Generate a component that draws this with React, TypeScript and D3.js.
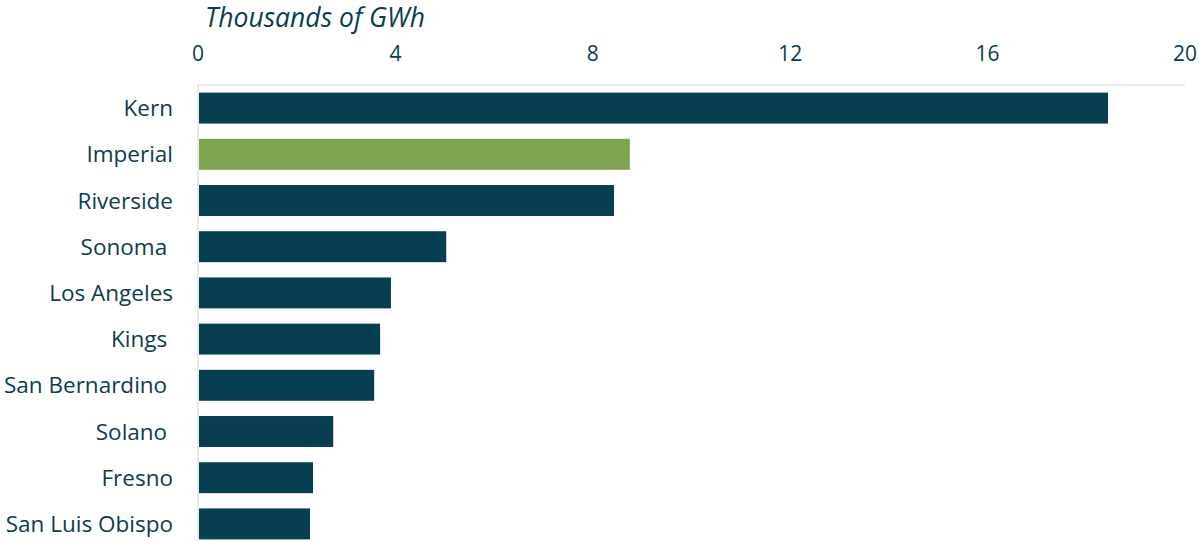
import React from 'react';
import * as d3 from 'd3';

const counties = ['Kern', 'Imperial', 'Riverside', 'Sonoma ', 'Los Angeles', 'Kings ', 'San Bernardino ', 'Solano ', 'Fresno', 'San Luis Obispo'];
const gwh = [18.44, 8.75, 8.43, 5.03, 3.91, 3.69, 3.57, 2.74, 2.33, 2.27];
const highlighted = ['Imperial'];
const xTicks = [0, 4, 8, 12, 16, 20];

const W = 1199;
const H = 541;
const dark = '#073f50';
const green = '#7fa34f';
const textColor = '#0b3d4f';
const font = '"Open Sans", "Noto Sans", sans-serif';

const App: React.FC = () => {
  const x = d3.scaleLinear().domain([0, 20]).range([198, 1185]);
  const y = d3.scaleBand<string>()
    .domain(counties)
    .range([85, 85 + counties.length * 46.2])
    .paddingInner(0.33)
    .paddingOuter(0.165);

  return (
    <svg width={W} height={H} style={{ position: 'absolute', left: 0, top: 0, display: 'block' }}>
      <rect width={W} height={H} fill="#fff" />
      <text x={205} y={27} fontFamily={font} fontStyle="italic" fontSize={26.5} fill={textColor}>
        Thousands of GWh
      </text>
      {xTicks.map(t => (
        <text key={t} x={x(t)} y={61} textAnchor="middle" fontFamily={font} fontSize={21} fill={textColor}>
          {t}
        </text>
      ))}
      <line x1={x(0)} x2={x(20)} y1={85} y2={85} stroke="#e3e3e3" strokeWidth={1.5} />
      <line x1={x(0)} x2={x(0)} y1={85} y2={H} stroke="#e3e3e3" strokeWidth={1.5} />
      {counties.map((c, i) => (
        <g key={c}>
          <rect
            x={x(0) + 1}
            y={y(c)}
            width={x(gwh[i]) - x(0) - 1}
            height={y.bandwidth()}
            fill={highlighted.includes(c) ? green : dark}
          />
          <text
            x={173}
            y={(y(c) as number) + y.bandwidth() / 2}
            dy="0.36em"
            textAnchor="end"
            fontFamily={font}
            fontSize={22.5}
            fill={textColor}
            style={{ whiteSpace: 'pre' }}
          >
            {c}
          </text>
        </g>
      ))}
    </svg>
  );
};

export default App;
